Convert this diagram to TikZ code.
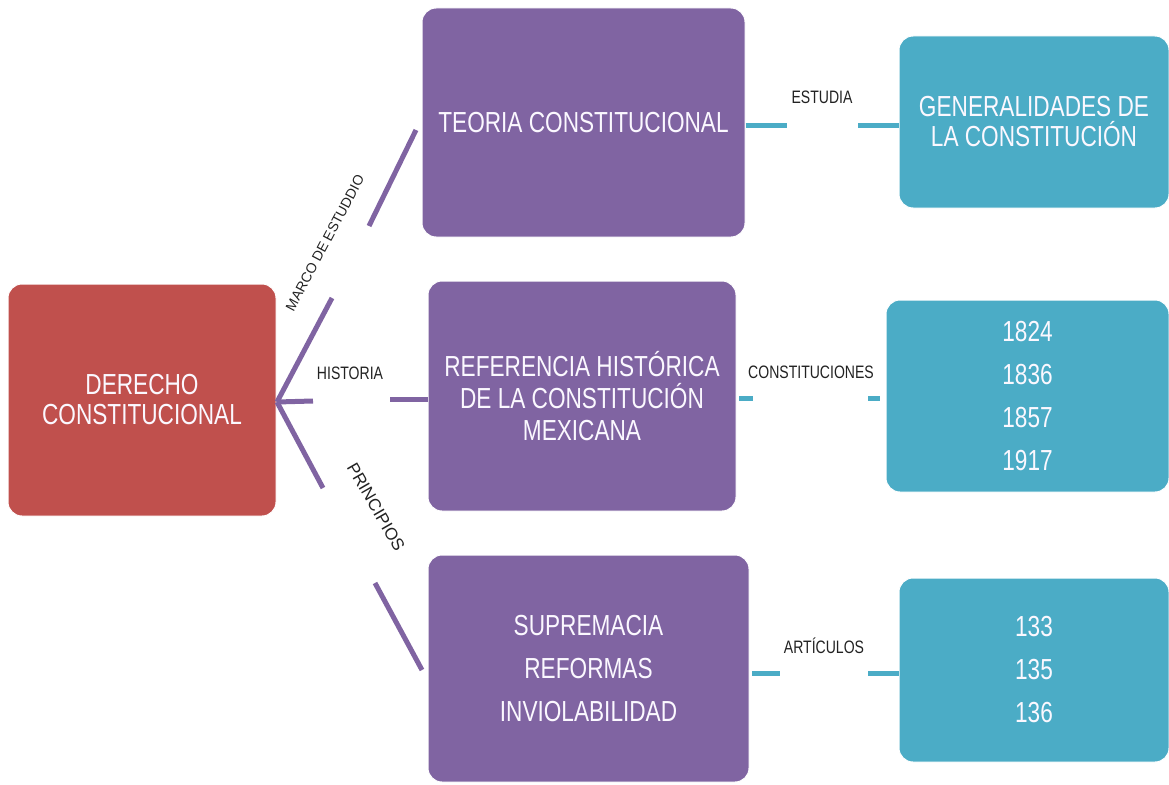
\documentclass[tikz,border=0pt]{standalone}
\usepackage{fontspec}
\setmainfont{Liberation Sans}[FakeStretch=0.78]
\newfontfamily\rotfont{Liberation Sans}
\usetikzlibrary{calc}
\definecolor{cred}{HTML}{C0504D}
\definecolor{cpurple}{HTML}{8064A2}
\definecolor{cteal}{HTML}{4BACC6}
\definecolor{ctext}{HTML}{222222}
\definecolor{cwhite}{HTML}{FBF8FF}
\tikzset{
  box/.style={rectangle, rounded corners=14pt, draw=white, line width=1pt, inner sep=0pt, text=cwhite, align=center},
  redbox/.style={box, fill=cred, font=\fontsize{29}{30}\selectfont},
  purbox/.style={box, fill=cpurple},
  tealbox/.style={box, fill=cteal},
  lbl/.style={text=ctext, font=\fontsize{18}{20}\selectfont, inner sep=0pt},
  rlbl/.style={text=ctext, inner sep=0pt},
  pline/.style={draw=cpurple, line width=5pt},
  tline/.style={draw=cteal, line width=5pt}
}
\begin{document}
\begin{tikzpicture}[x=1pt,y=-1pt]
\useasboundingbox (0,0) rectangle (1169,784);
% boxes
\node[redbox, minimum width=268pt, minimum height=232pt] (red) at (142,400) {DERECHO\\CONSTITUCIONAL};
\node[purbox, minimum width=323pt, minimum height=229pt, font=\fontsize{29}{32}\selectfont] (p1) at (583.5,122.5) {TEORIA CONSTITUCIONAL};
\node[purbox, minimum width=308pt, minimum height=230pt, font=\fontsize{29}{32}\selectfont] (p2) at (582,396) {REFERENCIA HISTÓRICA\\DE LA CONSTITUCIÓN\\MEXICANA};
\node[purbox, minimum width=321pt, minimum height=227pt, font=\fontsize{29}{43}\selectfont] (p3) at (588.5,668.5) {SUPREMACIA\\REFORMAS\\INVIOLABILIDAD};
\node[tealbox, minimum width=270pt, minimum height=172pt, font=\fontsize{29}{30}\selectfont] (t1) at (1034,122) {GENERALIDADES DE\\LA CONSTITUCIÓN};
\node[tealbox, minimum width=283pt, minimum height=192pt, font=\fontsize{29}{43}\selectfont] (t2) at (1027.5,396) {1824\\1836\\1857\\1917};
\node[tealbox, minimum width=270pt, minimum height=184pt, font=\fontsize{29}{43}\selectfont] (t3) at (1034,670) {133\\135\\136};
% fan connectors
\coordinate (fan) at (277,402);
\coordinate (a1) at (332,298);
\coordinate (a2) at (369,226);
\coordinate (a3) at (416,130);
\coordinate (b1) at (313,401);
\coordinate (b2) at (390,399);
\coordinate (b3) at (p2.west |- 0,399);
\coordinate (c1) at (323,488);
\coordinate (c2) at (375,583);
\coordinate (c3) at (422,670);
\draw[pline] (fan) -- (a1);
\draw[pline] (a2) -- (a3);
\draw[pline] (fan) -- (b1);
\draw[pline] (b2) -- (b3);
\draw[pline] (fan) -- (c1);
\draw[pline] (c2) -- (c3);
\node[rlbl, rotate=62, font=\rotfont\fontsize{14}{16}\selectfont] (lmarco) at (325,243) {MARCO DE ESTUDDIO};
\node[lbl] (lhist) at (350,373) {HISTORIA};
\node[rlbl, rotate=-60, font=\rotfont\fontsize{17}{19}\selectfont] (lprin) at (376,507) {PRINCIPIOS};
% teal connectors
\coordinate (d1) at (787,125);
\coordinate (d2) at (858,125);
\draw[tline] (p1.east |- 0,125) -- (d1);
\draw[tline] (d2) -- (t1.west |- 0,125);
\node[lbl] (lest) at (822,97) {ESTUDIA};
\coordinate (e0) at (739,398);
\coordinate (e1) at (753,398);
\coordinate (e2) at (868,398);
\coordinate (e3) at (880,398);
\draw[tline] (e0) -- (e1);
\draw[tline] (e2) -- (e3);
\node[lbl] (lcons) at (811,372) {CONSTITUCIONES};
\coordinate (f1) at (780,673);
\coordinate (f2) at (868,673);
\draw[tline] (752,673) -- (f1);
\draw[tline] (f2) -- (t3.west |- 0,673);
\node[lbl] (lart) at (824,646) {ARTÍCULOS};
\end{tikzpicture}
\end{document}
